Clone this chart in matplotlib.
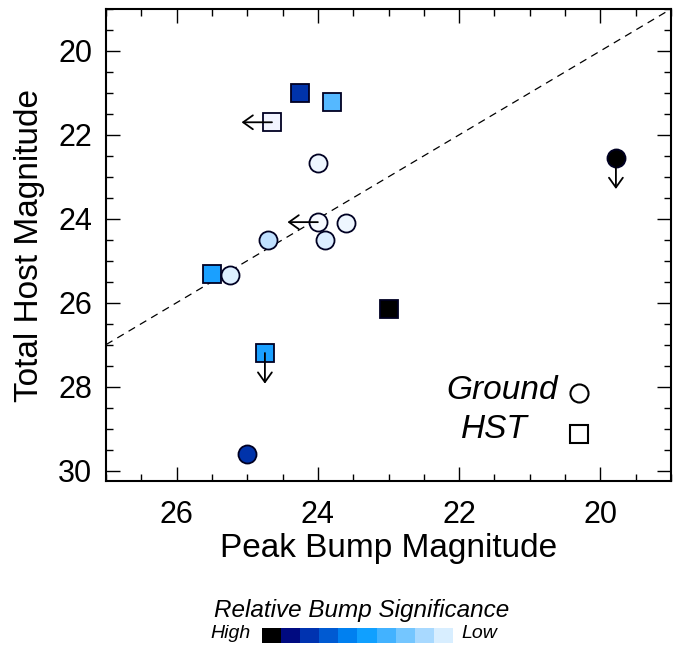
import numpy as np
import matplotlib
matplotlib.use("Agg")
import matplotlib.pyplot as plt
from matplotlib.colors import ListedColormap

plt.rcParams["font.family"] = ["Liberation Sans", "DejaVu Sans"]

# Peak bump magnitude (x) and total host magnitude (y)
bump_mag = [24.25, 23.8, 24.65, 24.0, 19.78, 24.0, 23.6, 23.9, 24.7, 25.5, 25.25, 23.0, 24.75, 25.0]
host_mag = [21.0, 21.22, 21.7, 22.67, 22.56, 24.08, 24.1, 24.5, 24.5, 25.32, 25.34, 26.16, 27.2, 29.6]
source = ["HST", "HST", "HST", "Ground", "Ground", "Ground", "Ground", "Ground", "Ground",
          "HST", "Ground", "HST", "HST", "Ground"]
point_colors = ["#0033aa", "#55b8ff", "#f2f4ff", "#eef6ff", "#000000", "#f6f9ff", "#eef6ff",
                "#dcedff", "#c0e0ff", "#1aa0ff", "#ddefff", "#000000", "#1aa0ff", "#0033aa"]
# limit arrows: "left" = bump fainter limit, "down" = host fainter limit
limits = [None, None, "left", None, "down", "left", None, None, None, None, None, None, "down", None]

# significance scale, high -> low
scale_colors = ["#000000", "#000a80", "#0033b0", "#005ad2", "#0080f0",
                "#10a0ff", "#42b2ff", "#74c6ff", "#a8d9ff", "#d8eeff"]

fig = plt.figure(figsize=(6.73, 6.45), dpi=100)
ax = fig.add_axes([106 / 673, 1 - 481 / 645, 565 / 673, 472 / 645])

ax.plot([27, 19], [27, 19], ls=(0, (6, 4.5)), color="black", lw=0.9, zorder=1)

for x, y, s, c, lim in zip(bump_mag, host_mag, source, point_colors, limits):
    m = "o" if s == "Ground" else "s"
    ax.plot(x, y, marker=m, ms=13, mfc=c, mec="#000022", mew=1.3, ls="none", zorder=3)
    if lim == "left":
        ax.annotate("", xy=(x + 0.43, y), xytext=(x, y), zorder=4,
                    arrowprops=dict(arrowstyle="->,head_length=0.7,head_width=0.5",
                                    lw=1.3, color="black", shrinkA=0, shrinkB=0))
    elif lim == "down":
        ax.annotate("", xy=(x, y + 0.73), xytext=(x, y), zorder=4,
                    arrowprops=dict(arrowstyle="->,head_length=0.7,head_width=0.5",
                                    lw=1.3, color="black", shrinkA=0, shrinkB=0))

# legend
ax.text(20.6, 28.1, "Ground", fontsize=24, style="italic", ha="right", va="center")
ax.text(21.03, 29.02, "HST", fontsize=24, style="italic", ha="right", va="center")
ax.plot(20.3, 28.15, marker="o", ms=13, mfc="white", mec="black", mew=1.5, ls="none")
ax.plot(20.3, 29.12, marker="s", ms=13, mfc="white", mec="black", mew=1.5, ls="none")

ax.set_xlim(27, 19)
ax.set_ylim(30.25, 19)
ax.set_xticks([26, 24, 22, 20])
ax.set_yticks([20, 22, 24, 26, 28, 30])
ax.set_xticks(np.arange(19, 27.01, 0.5), minor=True)
ax.set_yticks(np.arange(19, 30.01, 0.5), minor=True)
ax.tick_params(which="both", direction="in", top=True, right=True, width=1.0)
ax.tick_params(which="major", length=10, labelsize=22)
ax.tick_params(axis="x", which="major", pad=14)
ax.tick_params(axis="y", which="major", pad=10)
ax.tick_params(which="minor", length=5)
for sp in ax.spines.values():
    sp.set_linewidth(1.5)
ax.set_xlabel("Peak Bump Magnitude", fontsize=24, labelpad=2)
ax.set_ylabel("Total Host Magnitude", fontsize=24, labelpad=9)

# colour scale bar
cax = fig.add_axes([262 / 673, 1 - 643 / 645, 190 / 673, 15 / 645])
cax.imshow(np.arange(len(scale_colors))[None, :], cmap=ListedColormap(scale_colors),
           aspect="auto", interpolation="nearest")
cax.axis("off")
fig.text(362 / 673, 1 - 611 / 645, "Relative Bump Significance", fontsize=17.5,
         style="italic", ha="center", va="center")
fig.text(251 / 673, 1 - 633 / 645, "High", fontsize=14, style="italic", ha="right", va="center")
fig.text(461 / 673, 1 - 633 / 645, "Low", fontsize=14, style="italic", ha="left", va="center")

fig.savefig("out.png", dpi=100)
